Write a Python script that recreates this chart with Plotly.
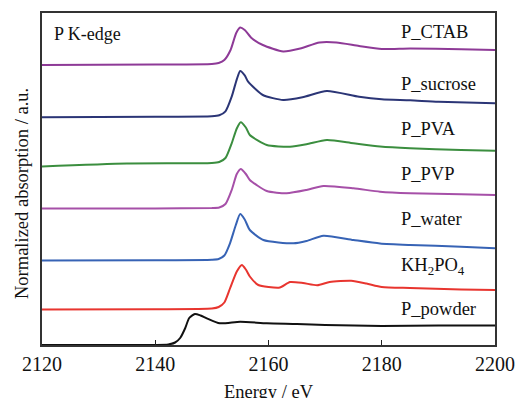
import plotly.graph_objects as go

# Energy (eV) and relative absorption (a.u.) for each spectrum
names = ["P_CTAB", "P_sucrose", "P_PVA", "P_PVP", "P_water", "KH<sub>2</sub>PO<sub>4</sub>", "P_powder"]
colors = ["#8E3A97", "#2B3576", "#3B8E3F", "#A650A8", "#3763B5", "#E8352F", "#111111"]
offsets = [280, 227.7, 181.5, 136, 84.5, 35.5, 0]

e_ctab = [2120, 2140, 2150, 2151.2, 2152.2, 2153.3, 2154.3, 2155, 2155.8, 2157, 2159, 2162.6, 2165.6, 2169, 2172, 2176, 2180, 2185, 2194, 2200]
a_ctab = [0, 0.5, 1, 2, 5, 15, 32, 37.5, 35, 27, 20, 13.5, 16.5, 22.5, 22.5, 19, 16, 16.5, 15.7, 15]

e_sucrose = [2120, 2140, 2150, 2151.3, 2152.4, 2153.5, 2154.4, 2155, 2155.8, 2156.4, 2159, 2162.6, 2166, 2170.3, 2176, 2180, 2185, 2190, 2200]
a_sucrose = [0, 0.5, 1, 2, 6, 20.6, 38, 46.3, 42, 35.6, 22.3, 17.3, 20, 26.3, 20.5, 18, 17, 15.5, 14]

e_pva = [2120, 2135, 2150, 2151.3, 2152.4, 2153.5, 2154.4, 2155.1, 2156, 2156.7, 2159.7, 2163.8, 2166.7, 2170.3, 2175, 2179.7, 2185, 2194, 2200]
a_pva = [-3, 0, 0.5, 1.5, 5.5, 20.2, 35, 41.2, 36, 28.5, 18.5, 16.8, 19.2, 23.5, 20.2, 17, 15.2, 13.5, 12.8]

e_pvp = [2120, 2140, 2150, 2151.3, 2152.4, 2153.5, 2154.4, 2155.1, 2156, 2156.7, 2159.7, 2163.2, 2166.7, 2169.7, 2175, 2179.7, 2185, 2194, 2200]
a_pvp = [0.5, 0.5, 1, 1.5, 5, 19, 35, 40, 35, 29, 18, 15.7, 19, 23, 20.7, 17.3, 15.7, 14.7, 14]

e_water = [2120, 2140, 2150, 2151.2, 2152.2, 2153.2, 2154.2, 2155, 2155.8, 2156.7, 2159.1, 2164.4, 2166.7, 2169.7, 2175, 2179.7, 2185, 2194, 2200]
a_water = [0, 0.3, 0.8, 1.5, 5, 17.2, 35, 46.5, 41, 30.5, 20.5, 17.2, 19.5, 24.8, 20.5, 17, 15.5, 13.8, 12.2]

e_kh2po4 = [2120, 2140, 2150, 2151.2, 2152.2, 2153.2, 2154.4, 2155.3, 2156, 2156.7, 2158.2, 2160, 2162, 2163.8, 2166.1, 2168.6, 2170.8, 2174.6, 2177.3, 2180, 2185, 2194, 2200]
a_kh2po4 = [0, 0.3, 1, 2.5, 7, 21, 38, 44.5, 40, 33, 24.5, 22.5, 22, 27.5, 26.5, 24.2, 27.5, 28.8, 26, 22.5, 21.5, 20, 19.5]

e_powder = [2120, 2140, 2142.3, 2143.5, 2144.4, 2145.3, 2146, 2147, 2148, 2149.1, 2151.4, 2155, 2159.7, 2165, 2170, 2180, 2190, 2200]
a_powder = [0, 0, 0.5, 2.5, 7, 17, 27, 31, 29.5, 26.7, 21.7, 23.3, 21.7, 21, 20, 19, 19.5, 19.5]

energies = [e_ctab, e_sucrose, e_pva, e_pvp, e_water, e_kh2po4, e_powder]
absorbs = [a_ctab, a_sucrose, a_pva, a_pvp, a_water, a_kh2po4, a_powder]
label_y = [313, 261, 216, 171, 126, 79, 36]

x_ticks = [2120, 2140, 2160, 2180, 2200]

FONT = "Liberation Serif"

fig = go.Figure()
for e, a, off, c, n in zip(energies, absorbs, offsets, colors, names):
    fig.add_trace(go.Scatter(
        x=e, y=[v + off for v in a], mode="lines",
        line=dict(color=c, width=2, shape="spline", smoothing=0.6),
        name=n, showlegend=False, hoverinfo="skip"))

for n, ly in zip(names, label_y):
    fig.add_annotation(x=2183.0, y=ly, xref="x", yref="y", text=n,
                       showarrow=False, xanchor="left", yanchor="middle",
                       font=dict(family=FONT, size=18.5, color="#111"))

fig.add_annotation(x=2121.8, y=311, xref="x", yref="y", text="P K-edge",
                   showarrow=False, xanchor="left", yanchor="middle",
                   font=dict(family=FONT, size=18, color="#111"))

# axis titles
fig.add_annotation(x=0.5, y=-0.141, xref="paper", yref="paper", text="Energy / eV",
                   showarrow=False, xanchor="center", yanchor="middle",
                   font=dict(family=FONT, size=18.5, color="#111"))
fig.add_annotation(x=-0.044, y=0.455, xref="paper", yref="paper", text="Normalized absorption / a.u.",
                   showarrow=False, xanchor="center", yanchor="middle", textangle=-90,
                   font=dict(family=FONT, size=18.5, color="#111"))

fig.update_layout(
    width=518, height=398,
    margin=dict(l=42, r=23, t=13, b=53),
    paper_bgcolor="white", plot_bgcolor="white",
    font=dict(family=FONT, size=18, color="#111"),
)
fig.update_xaxes(
    range=[2120, 2200], tickvals=x_ticks, ticktext=[str(t) for t in x_ticks],
    ticks="inside", ticklen=5, tickwidth=1, tickcolor="#222",
    showline=True, linecolor="#333", linewidth=2, mirror=True,
    showgrid=False, zeroline=False, automargin=False,
    tickfont=dict(family=FONT, size=20, color="#111"),
    ticklabelstandoff=0,
)
fig.update_yaxes(
    range=[0, 332], showticklabels=False, ticks="",
    showline=True, linecolor="#333", linewidth=2, mirror=True,
    showgrid=False, zeroline=False, automargin=False,
)

fig.write_html("out.html")
